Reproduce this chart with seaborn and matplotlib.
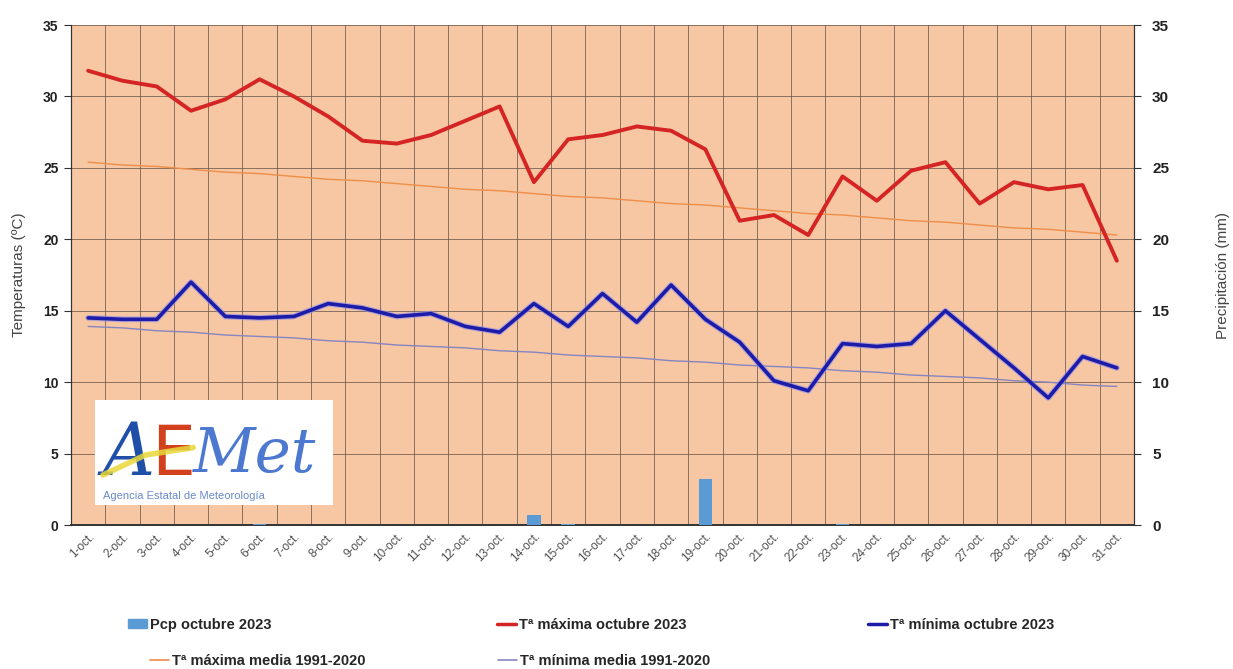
import matplotlib
matplotlib.use("Agg")
import matplotlib.pyplot as plt
import matplotlib.patches as mpatches
from matplotlib.lines import Line2D
from matplotlib.ticker import FixedLocator, NullFormatter
import numpy as np
import pandas as pd
import seaborn as sns

# ---------------- data ----------------
days = [f"{d}-oct." for d in range(1, 32)]
tmax = [31.8, 31.1, 30.7, 29.0, 29.8, 31.2, 30.0, 28.6, 26.9, 26.7,
        27.3, 28.3, 29.3, 24.0, 27.0, 27.3, 27.9, 27.6, 26.3, 21.3,
        21.7, 20.3, 24.4, 22.7, 24.8, 25.4, 22.5, 24.0, 23.5, 23.8, 18.5]
tmin = [14.5, 14.4, 14.4, 17.0, 14.6, 14.5, 14.6, 15.5, 15.2, 14.6,
        14.8, 13.9, 13.5, 15.5, 13.9, 16.2, 14.2, 16.8, 14.4, 12.8,
        10.1, 9.4, 12.7, 12.5, 12.7, 15.0, 13.0, 11.0, 8.9, 11.8, 11.0]
tmax_norm = [25.4, 25.2, 25.1, 24.9, 24.7, 24.6, 24.4, 24.2, 24.1, 23.9,
             23.7, 23.5, 23.4, 23.2, 23.0, 22.9, 22.7, 22.5, 22.4, 22.2,
             22.0, 21.8, 21.7, 21.5, 21.3, 21.2, 21.0, 20.8, 20.7, 20.5, 20.3]
tmin_norm = [13.9, 13.8, 13.6, 13.5, 13.3, 13.2, 13.1, 12.9, 12.8, 12.6,
             12.5, 12.4, 12.2, 12.1, 11.9, 11.8, 11.7, 11.5, 11.4, 11.2,
             11.1, 11.0, 10.8, 10.7, 10.5, 10.4, 10.3, 10.1, 10.0, 9.8, 9.7]
pcp = [0.0, 0.0, 0.0, 0.0, 0.0, 0.1, 0.0, 0.0, 0.0, 0.0,
       0.0, 0.0, 0.0, 0.7, 0.1, 0.0, 0.0, 0.0, 3.2, 0.0,
       0.0, 0.0, 0.1, 0.0, 0.0, 0.0, 0.0, 0.0, 0.0, 0.0, 0.0]
y_ticks = [0, 5, 10, 15, 20, 25, 30, 35]

labels = {
    "pcp": "Pcp octubre 2023",
    "tmax": "Tª máxima octubre 2023",
    "tmin": "Tª mínima octubre 2023",
    "tmaxn": "Tª máxima media 1991-2020",
    "tminn": "Tª mínima media 1991-2020",
}

df = pd.DataFrame({"day": days, "idx": np.arange(len(days)), "tmax": tmax,
                   "tmin": tmin, "tmax_norm": tmax_norm,
                   "tmin_norm": tmin_norm, "pcp": pcp})

# ---------------- style ----------------
sns.set_theme(style="white")
plt.rcParams["font.family"] = ["Liberation Sans", "DejaVu Sans"]

BG = "#F7C6A2"
C_PCP = "#5B9BD5"
C_TMAX = "#D42424"
C_TMIN = "#1C1CA8"
C_TMAXN = "#EE8E48"
C_TMINN = "#8585C2"
GRID = "#6E5A4E"

fig = plt.figure(figsize=(12.33, 6.69), dpi=100)
fig.patch.set_facecolor("white")
ax = fig.add_axes([0.0576, 0.2152, 0.8621, 0.7474])
ax.set_facecolor(BG)
ax2 = ax.twinx()

# bars (precipitation, right axis)
sns.barplot(data=df, x="day", y="pcp", ax=ax2, color=C_PCP, width=0.4,
            saturation=1, linewidth=0, zorder=3)

# lines (temperatures, left axis)
sns.lineplot(data=df, x="idx", y="tmax_norm", ax=ax, color=C_TMAXN, lw=1.0, zorder=3)
sns.lineplot(data=df, x="idx", y="tmin_norm", ax=ax, color=C_TMINN, lw=1.0, zorder=3)
sns.lineplot(data=df, x="idx", y="tmax", ax=ax, color=C_TMAX, lw=2.8, zorder=4)
sns.lineplot(data=df, x="idx", y="tmin", ax=ax, color="#8C8CF0", lw=4.2, alpha=0.6, zorder=4)
sns.lineplot(data=df, x="idx", y="tmin", ax=ax, color=C_TMIN, lw=2.6, zorder=5)

n = len(days)
for a in (ax, ax2):
    a.set_xlim(-0.5, n - 0.5)
    a.set_ylim(0, 35)
    a.set_yticks(y_ticks)
    a.set_xlabel("")

ax.set_xticks(np.arange(n))
ax.set_xticklabels(days, rotation=45, ha="right", rotation_mode="anchor",
                   fontsize=8.5, color="#505050")
ax.tick_params(axis="x", which="major", length=0, pad=4)
ax.xaxis.set_minor_locator(FixedLocator(np.arange(n + 1) - 0.5))
ax.xaxis.set_minor_formatter(NullFormatter())
ax.tick_params(axis="x", which="minor", length=4, color="#333333", width=0.8, direction="out")
ax.grid(True, axis="y", which="major", color=GRID, lw=0.7, alpha=0.8)
ax.grid(True, axis="x", which="minor", color=GRID, lw=0.7, alpha=0.8)
ax.grid(False, axis="x", which="major")
ax.set_axisbelow(True)
ax2.grid(False)

ax.set_yticklabels([str(t) for t in y_ticks], fontsize=10, fontweight="bold", color="#222222")
ax2.set_yticklabels([str(t) for t in y_ticks], fontsize=11, fontweight="bold", color="#222222")
ax.tick_params(axis="y", length=5, color="#333333", width=0.8, direction="out", pad=4, left=True)
ax2.tick_params(axis="y", length=5, color="#333333", width=0.8, direction="out", pad=8, right=True)

ax.set_ylabel("Temperaturas (ºC)", fontsize=11, color="#444444", labelpad=12)
ax2.set_ylabel("Precipitación (mm)", fontsize=11, color="#444444", labelpad=34)

for a in (ax, ax2):
    a.spines["top"].set_visible(False)
    a.spines["left"].set_color("#333333")
    a.spines["right"].set_color("#333333")
    a.spines["bottom"].set_color("#333333")
    a.spines["left"].set_linewidth(0.8)
    a.spines["right"].set_linewidth(0.8)
    a.spines["bottom"].set_linewidth(1.2)

# ---------------- AEMET logo (decoration) ----------------
logo_box = mpatches.Rectangle((0.0226, 0.0395), 0.224, 0.21, transform=ax.transAxes,
                              facecolor="white", edgecolor="none", zorder=6)
ax.add_patch(logo_box)
ax.text(0.030, 0.14, "A", transform=ax.transAxes, fontsize=52, color="#1F4FA8",
        fontstyle="italic", fontfamily="DejaVu Serif", zorder=7, va="center")
ax.text(0.075, 0.14, "E", transform=ax.transAxes, fontsize=50, color="#D2401E",
        fontfamily="DejaVu Sans", zorder=7, va="center")
ax.text(0.115, 0.14, "Met", transform=ax.transAxes, fontsize=44, color="#4C78D0",
        fontstyle="italic", fontfamily="DejaVu Serif", zorder=7, va="center")
ax.plot([0.03, 0.07, 0.115], [0.10, 0.14, 0.155], transform=ax.transAxes,
        color="#E8D83A", lw=4, alpha=0.85, zorder=8, solid_capstyle="round")
ax.text(0.030, 0.058, "Agencia Estatal de Meteorología", transform=ax.transAxes,
        fontsize=8, color="#6A8AC8", zorder=7, va="center")

# ---------------- legend (one entry per box, laid out like the original) ----------------
legend_font = {"family": ["Liberation Sans Narrow", "Liberation Sans", "DejaVu Sans"],
               "weight": "bold", "size": 10.5}
entries = [
    (mpatches.Patch(color=C_PCP), labels["pcp"], 128),
    (Line2D([], [], color=C_TMAX, lw=2.5), labels["tmax"], 497),
    (Line2D([], [], color=C_TMIN, lw=2.5), labels["tmin"], 868),
    (Line2D([], [], color=C_TMAXN, lw=1.2), labels["tmaxn"], 150),
    (Line2D([], [], color=C_TMINN, lw=1.2), labels["tminn"], 498),
]
rows_y = [625, 625, 625, 661, 661]
W, H = 1233, 669
for (h, lab, xpx), ypx in zip(entries, rows_y):
    fig.legend([h], [lab], loc="center left",
               bbox_to_anchor=(xpx / W, 1 - ypx / H), frameon=False,
               prop=legend_font, handlelength=1.3, handletextpad=0.2,
               handleheight=0.6, borderpad=0, borderaxespad=0)

fig.savefig("out.png", dpi=100, facecolor="white")
